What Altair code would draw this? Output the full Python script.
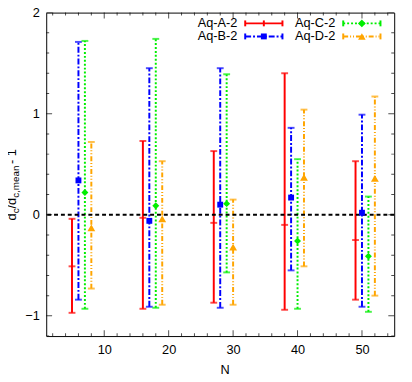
import altair as alt
import pandas as pd

FONT = "Liberation Sans"

# ---- data ----
names = ["Aq-A-2", "Aq-B-2", "Aq-C-2", "Aq-D-2"]
colors = ["#ff0000", "#0000ff", "#00ee00", "#ffa500"]

N_A = [5, 16, 27, 38, 49]
N_B = [6, 17, 28, 39, 50]
N_C = [7, 18, 29, 40, 51]
N_D = [8, 19, 30, 41, 52]

A_mid = [-0.51, -0.03, -0.08, -0.10, -0.25]
A_lo = [-0.97, -0.93, -0.87, -0.94, -0.84]
A_hi = [-0.04, 0.73, 0.63, 1.40, 0.53]

B_mid = [0.34, -0.06, 0.10, 0.17, 0.02]
B_lo = [-0.84, -0.91, -0.92, -0.55, -0.91]
B_hi = [1.71, 1.45, 1.45, 0.86, 0.99]

C_mid = [0.22, 0.09, 0.11, -0.26, -0.41]
C_lo = [-0.93, -0.92, -0.57, -0.93, -0.96]
C_hi = [1.72, 1.74, 1.39, 0.55, 0.18]

D_mid = [-0.13, -0.04, -0.32, 0.37, 0.36]
D_lo = [-0.73, -0.89, -0.89, -0.51, -0.80]
D_hi = [0.72, 0.53, 0.15, 1.04, 1.17]

x_major = [10, 20, 30, 40, 50]
x_minor = [v for v in range(2, 56, 2) if v % 10 != 0]
y_major = [-1, 0, 1, 2]
y_minor = [round(-1.2 + 0.2 * k, 1) for k in range(17) if abs(round(-1.2 + 0.2 * k, 1)) % 1 > 1e-9]

# ---- styling ----
dashes = [[1, 0], [6, 2, 2, 2], [2, 2], [5, 2, 1, 2, 1, 2]]
W, H = 355, 330

rows = []
for name, xs_, mids, los, his in zip(
    names,
    [N_A, N_B, N_C, N_D],
    [A_mid, B_mid, C_mid, D_mid],
    [A_lo, B_lo, C_lo, D_lo],
    [A_hi, B_hi, C_hi, D_hi],
):
    for x, m, l, h in zip(xs_, mids, los, his):
        rows.append({"series": name, "N": x, "mid": m, "lo": l, "hi": h})
df = pd.DataFrame(rows)

xsc = alt.Scale(domain=[1, 55], nice=False, zero=False)
ysc = alt.Scale(domain=[-1.2, 2], nice=False, zero=False)
color = alt.Color("series:N", scale=alt.Scale(domain=names, range=colors), legend=None)
sdash = alt.StrokeDash("series:N", scale=alt.Scale(domain=names, range=dashes), legend=None)

X_AX = alt.Axis(values=x_major, ticks=False, tickSize=0, domain=False, grid=False,
                labelPadding=8, title="N", titleX=182, titleY=28, titleBaseline="top",
                titleAlign="center", labelFontSize=13,
                titleFontSize=13, titleFontWeight="normal")
Y_AX = alt.Axis(values=y_major, ticks=False, tickSize=0, domain=False, grid=False,
                labelPadding=7, title=None, labelFontSize=13)


def X(f):
    return alt.X(f, type="quantitative", scale=xsc, axis=X_AX)


def Y(f):
    return alt.Y(f, type="quantitative", scale=ysc, axis=Y_AX)


base = alt.Chart(df)

bars = base.mark_rule(strokeWidth=2).encode(
    x=X("N"), y=Y("lo"), y2="hi:Q", color=color, strokeDash=sdash
)
zero = alt.Chart(pd.DataFrame({"z": [0]})).mark_rule(
    color="black", strokeWidth=2, strokeDash=[4, 3]
).encode(y=Y("z"))
cap_lo = base.mark_tick(orient="horizontal", thickness=2, size=7).encode(
    x=X("N"), y=Y("lo"), color=color
)
cap_hi = base.mark_tick(orient="horizontal", thickness=2, size=7).encode(
    x=X("N"), y=Y("hi"), color=color
)
mid_a = base.transform_filter(alt.datum.series == names[0]).mark_tick(
    orient="horizontal", thickness=2, size=7
).encode(x=X("N"), y=Y("mid"), color=color)
mid_pts = base.transform_filter(alt.datum.series != names[0]).mark_point(
    filled=True, opacity=1
).encode(
    x=X("N"),
    y=Y("mid"),
    color=color,
    shape=alt.Shape("series:N", scale=alt.Scale(domain=names[1:], range=["square", "diamond", "triangle-up"]), legend=None),
    size=alt.Size("series:N", scale=alt.Scale(domain=names[1:], range=[36, 64, 60]), legend=None),
)

# ---- inward ticks on all four sides ----
tick_layers = []
for vals, ln in [(x_major, 12), (x_minor, 6)]:
    tdf = pd.DataFrame({"v": vals})
    for ypix in [0, H]:
        tick_layers.append(
            alt.Chart(tdf).mark_tick(orient="vertical", clip=True, thickness=1, size=ln, color="black")
            .encode(x=X("v"), y=alt.value(ypix))
        )
for vals, ln in [(y_major, 12), (y_minor, 6)]:
    tdf = pd.DataFrame({"v": vals})
    for xpix in [0, W]:
        tick_layers.append(
            alt.Chart(tdf).mark_tick(orient="horizontal", clip=True, thickness=1, size=ln, color="black")
            .encode(y=Y("v"), x=alt.value(xpix))
        )

# ---- key (top right, two columns) ----
legend_layers = []
markers = [None, "square", "diamond", "triangle-up"]
msizes = [0, 36, 64, 60]
for i, name in enumerate(names):
    col, row = i // 2, i % 2
    ty = 11 + row * 13.3
    tx = 195 + col * 100
    a, b = tx + 8, tx + 46
    c = (a + b) / 2
    one = alt.Chart(pd.DataFrame({"t": [name]}))
    legend_layers.append(
        one.mark_text(align="right", baseline="middle", fontSize=13, font=FONT, color="black")
        .encode(text="t:N", x=alt.value(tx), y=alt.value(ty))
    )
    legend_layers.append(
        one.mark_rule(strokeWidth=2, color=colors[i], strokeDash=dashes[i])
        .encode(x=alt.value(a), x2=alt.value(b), y=alt.value(ty))
    )
    for ex in [a, b]:
        legend_layers.append(
            one.mark_rule(strokeWidth=2, color=colors[i])
            .encode(x=alt.value(ex), y=alt.value(ty - 3), y2=alt.value(ty + 3))
        )
    if markers[i] is None:
        legend_layers.append(
            one.mark_rule(strokeWidth=2, color=colors[i])
            .encode(x=alt.value(c), y=alt.value(ty - 3), y2=alt.value(ty + 3))
        )
    else:
        legend_layers.append(
            one.mark_point(filled=True, opacity=1, color=colors[i], shape=markers[i], size=msizes[i])
            .encode(x=alt.value(c), y=alt.value(ty))
        )

# ---- y-axis title with subscripts: d_c/d_c,mean - 1 ----
title_parts = [
    ("d", 13, 0, 0.0),
    ("c", 10, 3, 7.23),
    ("/d", 13, 0, 12.23),
    ("c,mean", 10, 3, 23.07),
    (" - 1", 13, 0, 57.5),
]
title_layers = []
y_start = 212
for txt, fs, dx, off in title_parts:
    title_layers.append(
        alt.Chart(pd.DataFrame({"t": [txt]})).mark_text(
            align="left", baseline="alphabetic", angle=270, fontSize=fs, font=FONT, color="black"
        ).encode(text="t:N", x=alt.value(-31 + dx), y=alt.value(y_start - off))
    )

chart = alt.layer(
    bars, zero, cap_lo, cap_hi, mid_a, mid_pts, *tick_layers, *legend_layers, *title_layers
).properties(
    width=W,
    height=H,
    autosize=alt.AutoSizeParams(type="none"),
    padding={"left": 39, "top": 1, "right": 10, "bottom": 35},
).configure_view(
    stroke="black", strokeWidth=1
).configure_axis(
    labelFont=FONT, titleFont=FONT, labelColor="black", titleColor="black"
)

chart.save("out.html", embed_options={"renderer": "svg", "actions": False})
